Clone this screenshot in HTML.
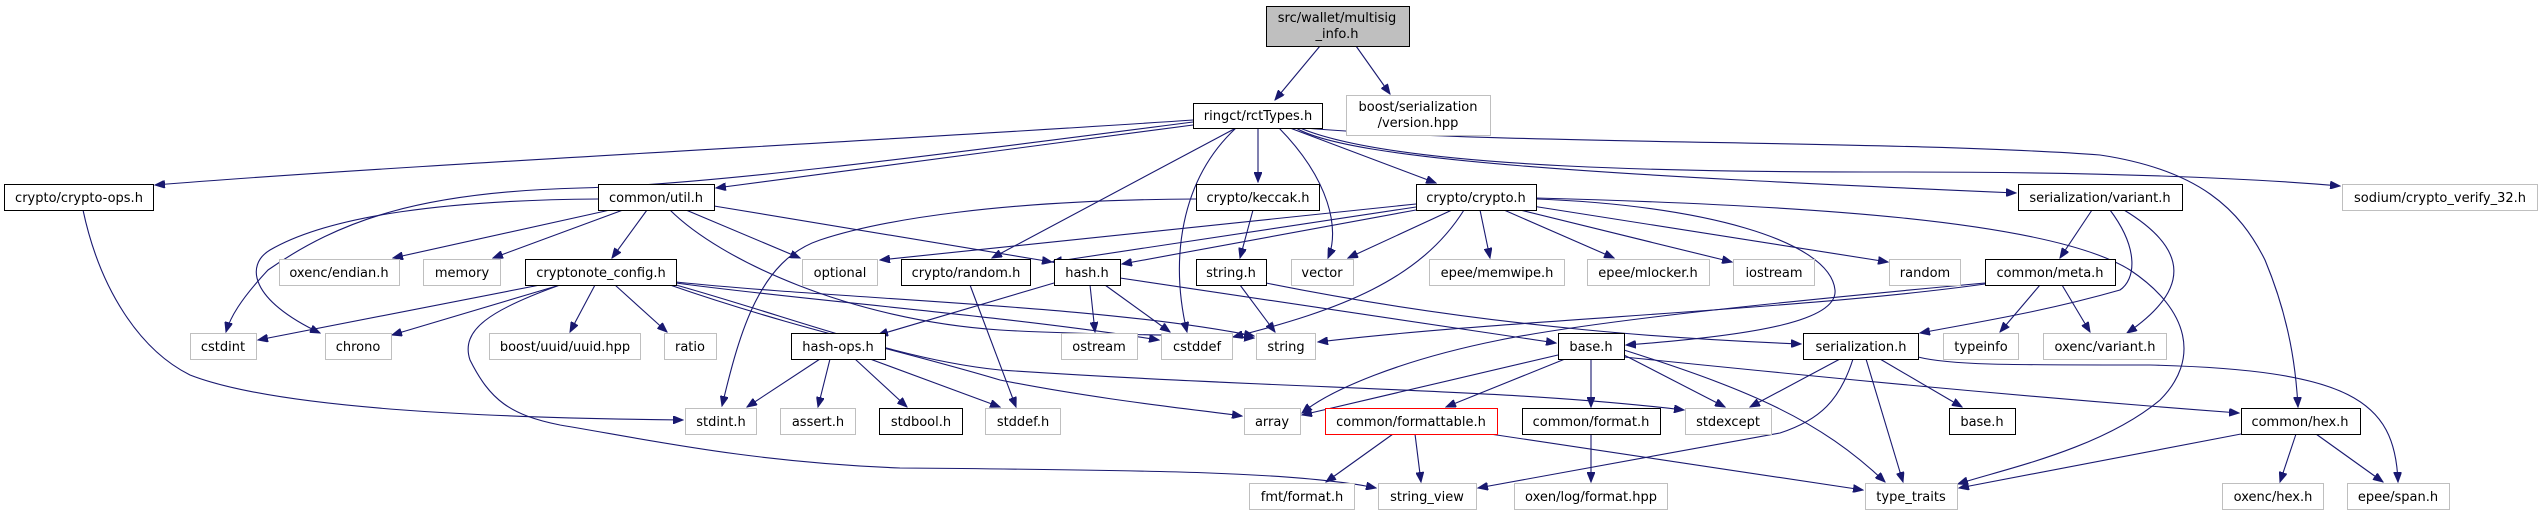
<!DOCTYPE html>
<html><head><meta charset="utf-8"><style>
html,body{margin:0;padding:0;background:#fff;}
svg{display:block;}
text{font-family:"DejaVu Sans","Liberation Sans",sans-serif;font-size:13px;fill:#000;text-anchor:middle;}
.e{fill:none;stroke:#191970;stroke-width:1.1;marker-end:url(#a);}
.g{fill:#fff;stroke:#bfbfbf;stroke-width:1;}
.b{fill:#fff;stroke:#000;stroke-width:1;}
</style></head><body>
<svg width="2542" height="515" viewBox="0 0 2542 515" xmlns="http://www.w3.org/2000/svg">
<defs><marker id="a" markerUnits="userSpaceOnUse" markerWidth="11" markerHeight="8" refX="10" refY="4" orient="auto"><path d="M0,0 L10,4 L0,8 z" fill="#191970" stroke="#191970"/></marker></defs>
<g>
<path class="e" d="M1320,46 L1275,100"/>
<path class="e" d="M1356,46 L1390,94"/>
<path class="e" d="M1193,120 C900,140 400,165 155,185"/>
<path class="e" d="M1193,125 L716,188"/>
<path class="e" d="M1193,122 C900,160 700,185 580,188 C420,192 340,220 268,270 C240,300 230,318 226,332"/>
<path class="e" d="M1258,128 L1258,182"/>
<path class="e" d="M1236,128 L992,258"/>
<path class="e" d="M1236,128 C1180,180 1170,260 1187,332"/>
<path class="e" d="M1279,128 C1330,180 1340,230 1328,258"/>
<path class="e" d="M1290,128 L1436,183"/>
<path class="e" d="M1296,128 C1350,160 1600,175 2016,193"/>
<path class="e" d="M1300,128 C1400,170 1700,172 1900,172 C2100,172 2250,178 2340,186"/>
<path class="e" d="M1305,128 C1500,145 1900,140 2100,155 C2200,170 2240,210 2265,260 C2290,320 2296,370 2298,407"/>
<path class="e" d="M610,210 L393,258"/>
<path class="e" d="M623,210 L493,258"/>
<path class="e" d="M647,210 L612,258"/>
<path class="e" d="M686,210 L800,258"/>
<path class="e" d="M714,206 L1052,262"/>
<path class="e" d="M670,210 C720,260 850,320 1000,330 C1100,336 1200,334 1254,338"/>
<path class="e" d="M598,199 C450,200 330,215 270,250 C245,265 250,300 320,333"/>
<path class="e" d="M1253,210 L1240,258"/>
<path class="e" d="M1196,199 C1000,200 880,220 820,240 C760,260 740,330 722,406"/>
<path class="e" d="M1416,204 L880,260"/>
<path class="e" d="M1416,207 L1052,262"/>
<path class="e" d="M1416,210 L1122,264"/>
<path class="e" d="M1452,210 L1348,258"/>
<path class="e" d="M1464,210 C1420,280 1340,310 1233,337"/>
<path class="e" d="M1480,210 L1490,258"/>
<path class="e" d="M1504,210 L1614,258"/>
<path class="e" d="M1520,210 L1732,262"/>
<path class="e" d="M1532,206 L1888,262"/>
<path class="e" d="M1536,199 C1700,205 1830,240 1835,290 C1838,320 1760,335 1626,345"/>
<path class="e" d="M1536,198 C1800,205 2050,220 2130,270 C2190,310 2200,360 2160,400 C2100,450 2000,470 1958,484"/>
<path class="e" d="M540,285 L258,340"/>
<path class="e" d="M560,285 L392,335"/>
<path class="e" d="M595,285 L570,332"/>
<path class="e" d="M615,285 L667,332"/>
<path class="e" d="M560,285 C490,310 460,330 470,360 C490,400 510,415 560,425 C650,440 750,462 900,468 C1150,470 1300,472 1376,488"/>
<path class="e" d="M676,283 C800,300 1000,315 1159,340"/>
<path class="e" d="M676,282 C850,300 1100,305 1254,336"/>
<path class="e" d="M670,285 C800,330 900,350 1000,380 C1100,400 1200,410 1242,416"/>
<path class="e" d="M676,285 C800,320 900,360 1000,370 C1300,390 1500,388 1684,410"/>
<path class="e" d="M970,285 L1016,407"/>
<path class="e" d="M1090,285 L1095,332"/>
<path class="e" d="M1105,285 L1170,332"/>
<path class="e" d="M1054,283 L878,335"/>
<path class="e" d="M1120,278 L1556,343"/>
<path class="e" d="M1240,285 L1275,332"/>
<path class="e" d="M1266,283 C1500,330 1700,340 1801,344"/>
<path class="e" d="M820,359 L747,407"/>
<path class="e" d="M830,359 L818,407"/>
<path class="e" d="M855,359 L907,407"/>
<path class="e" d="M870,359 L1000,407"/>
<path class="e" d="M1985,284 C1800,310 1500,320 1318,342"/>
<path class="e" d="M1985,283 C1800,300 1600,320 1500,340 C1400,360 1330,390 1302,413"/>
<path class="e" d="M2040,285 L2000,332"/>
<path class="e" d="M2062,285 L2090,332"/>
<path class="e" d="M2092,210 L2060,258"/>
<path class="e" d="M2124,210 C2190,250 2190,290 2127,333"/>
<path class="e" d="M2110,210 C2140,250 2135,280 2120,290 C2050,310 1990,320 1920,333"/>
<path class="e" d="M1840,359 L1750,407"/>
<path class="e" d="M1853,359 C1840,400 1820,420 1780,433 L1478,488"/>
<path class="e" d="M1866,359 L1903,482"/>
<path class="e" d="M1880,359 L1962,407"/>
<path class="e" d="M1918,357 C1950,365 2000,365 2150,365 C2350,370 2395,400 2398,482"/>
<path class="e" d="M1558,355 L1302,415"/>
<path class="e" d="M1565,359 L1446,407"/>
<path class="e" d="M1591,359 L1591,407"/>
<path class="e" d="M1624,355 L1725,407"/>
<path class="e" d="M1624,350 C1750,390 1820,420 1885,482"/>
<path class="e" d="M1624,357 C1800,375 2000,395 2239,413"/>
<path class="e" d="M1393,434 L1326,482"/>
<path class="e" d="M1415,434 L1421,482"/>
<path class="e" d="M1490,434 L1863,490"/>
<path class="e" d="M1591,434 L1591,482"/>
<path class="e" d="M2241,434 L1959,488"/>
<path class="e" d="M2296,434 L2280,482"/>
<path class="e" d="M2316,434 L2383,482"/>
<path class="e" d="M83,210 C100,290 140,350 190,375 C280,410 500,418 683,420"/>
</g>
<g>
<rect x="1266.5" y="6.5" width="143" height="40" fill="#bfbfbf" stroke="#000"/>
<text x="1337" y="22">src/wallet/multisig</text><text x="1337" y="38">_info.h</text>
<rect class="b" x="1193.5" y="103.5" width="129" height="25"/><text x="1258" y="120">ringct/rctTypes.h</text>
<rect class="g" x="1346.5" y="95.5" width="144" height="40"/>
<text x="1418" y="111">boost/serialization</text><text x="1418" y="127">/version.hpp</text>

<rect class="b" x="4.5" y="184.5" width="149" height="26"/><text x="79" y="202">crypto/crypto-ops.h</text>
<rect class="b" x="598.5" y="184.5" width="116" height="26"/><text x="656" y="202">common/util.h</text>
<rect class="b" x="1196.5" y="184.5" width="123" height="26"/><text x="1258" y="202">crypto/keccak.h</text>
<rect class="b" x="1416.5" y="184.5" width="120" height="26"/><text x="1476" y="202">crypto/crypto.h</text>
<rect class="b" x="2018.5" y="184.5" width="164" height="26"/><text x="2100" y="202">serialization/variant.h</text>
<rect class="g" x="2342.5" y="184.5" width="195" height="26"/><text x="2440" y="202">sodium/crypto_verify_32.h</text>

<rect class="g" x="279.5" y="259.5" width="120" height="26"/><text x="339" y="277">oxenc/endian.h</text>
<rect class="g" x="423.5" y="259.5" width="77" height="26"/><text x="462" y="277">memory</text>
<rect class="b" x="525.5" y="259.5" width="151" height="26"/><text x="601" y="277">cryptonote_config.h</text>
<rect class="g" x="802.5" y="259.5" width="75" height="26"/><text x="840" y="277">optional</text>
<rect class="b" x="901.5" y="259.5" width="129" height="26"/><text x="966" y="277">crypto/random.h</text>
<rect class="b" x="1054.5" y="259.5" width="66" height="26"/><text x="1087" y="277">hash.h</text>
<rect class="b" x="1196.5" y="259.5" width="70" height="26"/><text x="1231" y="277">string.h</text>
<rect class="g" x="1291.5" y="259.5" width="62" height="26"/><text x="1322" y="277">vector</text>
<rect class="g" x="1429.5" y="259.5" width="135" height="26"/><text x="1497" y="277">epee/memwipe.h</text>
<rect class="g" x="1587.5" y="259.5" width="122" height="26"/><text x="1648" y="277">epee/mlocker.h</text>
<rect class="g" x="1733.5" y="259.5" width="81" height="26"/><text x="1774" y="277">iostream</text>
<rect class="g" x="1889.5" y="259.5" width="71" height="26"/><text x="1925" y="277">random</text>
<rect class="b" x="1985.5" y="259.5" width="130" height="26"/><text x="2050" y="277">common/meta.h</text>

<rect class="g" x="190.5" y="333.5" width="66" height="26"/><text x="223" y="351">cstdint</text>
<rect class="g" x="325.5" y="333.5" width="66" height="26"/><text x="358" y="351">chrono</text>
<rect class="g" x="489.5" y="333.5" width="151" height="26"/><text x="565" y="351">boost/uuid/uuid.hpp</text>
<rect class="g" x="664.5" y="333.5" width="52" height="26"/><text x="690" y="351">ratio</text>
<rect class="b" x="791.5" y="333.5" width="94" height="26"/><text x="838" y="351">hash-ops.h</text>
<rect class="g" x="1061.5" y="333.5" width="76" height="26"/><text x="1099" y="351">ostream</text>
<rect class="g" x="1161.5" y="333.5" width="71" height="26"/><text x="1197" y="351">cstddef</text>
<rect class="g" x="1256.5" y="333.5" width="59" height="26"/><text x="1286" y="351">string</text>
<rect class="b" x="1558.5" y="333.5" width="66" height="26"/><text x="1591" y="351">base.h</text>
<rect class="b" x="1803.5" y="333.5" width="115" height="26"/><text x="1861" y="351">serialization.h</text>
<rect class="g" x="1943.5" y="333.5" width="75" height="26"/><text x="1981" y="351">typeinfo</text>
<rect class="g" x="2043.5" y="333.5" width="123" height="26"/><text x="2105" y="351">oxenc/variant.h</text>

<rect class="g" x="685.5" y="408.5" width="71" height="26"/><text x="721" y="426">stdint.h</text>
<rect class="g" x="780.5" y="408.5" width="75" height="26"/><text x="818" y="426">assert.h</text>
<rect class="b" x="879.5" y="408.5" width="83" height="26"/><text x="921" y="426">stdbool.h</text>
<rect class="g" x="985.5" y="408.5" width="75" height="26"/><text x="1023" y="426">stddef.h</text>
<rect class="g" x="1244.5" y="408.5" width="56" height="26"/><text x="1272" y="426">array</text>
<rect x="1325.5" y="408.5" width="172" height="26" fill="#fff" stroke="#ff0000"/><text x="1411" y="426">common/formattable.h</text>
<rect class="b" x="1522.5" y="408.5" width="138" height="26"/><text x="1591" y="426">common/format.h</text>
<rect class="g" x="1685.5" y="408.5" width="86" height="26"/><text x="1728" y="426">stdexcept</text>
<rect class="b" x="1949.5" y="408.5" width="66" height="26"/><text x="1982" y="426">base.h</text>
<rect class="b" x="2241.5" y="408.5" width="119" height="26"/><text x="2300" y="426">common/hex.h</text>

<rect class="g" x="1249.5" y="483.5" width="105" height="26"/><text x="1302" y="501">fmt/format.h</text>
<rect class="g" x="1378.5" y="483.5" width="98" height="26"/><text x="1427" y="501">string_view</text>
<rect class="g" x="1514.5" y="483.5" width="153" height="26"/><text x="1591" y="501">oxen/log/format.hpp</text>
<rect class="g" x="1865.5" y="483.5" width="92" height="26"/><text x="1911" y="501">type_traits</text>
<rect class="g" x="2222.5" y="483.5" width="101" height="26"/><text x="2273" y="501">oxenc/hex.h</text>
<rect class="g" x="2347.5" y="483.5" width="102" height="26"/><text x="2398" y="501">epee/span.h</text>
</g>
</svg>
</body></html>
